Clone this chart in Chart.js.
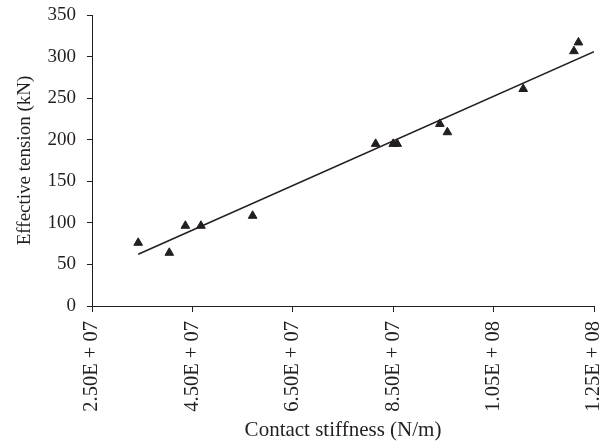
<!DOCTYPE html>
<html>
<head>
<meta charset="utf-8">
<script src="https://cdn.jsdelivr.net/npm/chart.js@4/dist/chart.umd.min.js"></script>
<style>
  html, body { margin: 0; padding: 0; background: #fff; }
  #wrap { width: 609px; height: 445px; }
</style>
</head>
<body>
<div id="wrap"><canvas id="stiffChart" width="609" height="445"></canvas></div>
<script>
// measured points: contact stiffness (N/m) vs effective tension (kN)
const stiffness = [3.42e7, 4.04e7, 4.36e7, 4.67e7, 5.70e7, 8.15e7, 8.50e7, 8.58e7, 9.43e7, 9.58e7, 1.109e8, 1.21e8, 1.219e8];
const tension   = [76, 64, 96.5, 96.5, 108.5, 195, 195, 195, 219, 209, 261, 306.5, 317];

// linear trend line end points
const trendX = [3.42e7, 1.25e8];
const trendY = [62.3, 306];

// x tick labels as printed in the figure
const xTickValues = [2.5e7, 4.5e7, 6.5e7, 8.5e7, 1.05e8, 1.25e8];
const xTickLabels = ['2.50E + 07', '4.50E + 07', '6.50E + 07', '8.50E + 07', '1.05E + 08', '1.25E + 08'];

const ink = '#231f20';
const serif = "'Liberation Serif', 'DejaVu Serif', serif";

const points = stiffness.map((x, i) => ({ x: x, y: tension[i] }));
const trend = trendX.map((x, i) => ({ x: x, y: trendY[i] }));

const ctx = document.getElementById('stiffChart').getContext('2d');
new Chart(ctx, {
    type: 'scatter',
    data: {
        datasets: [
            {
                label: 'Measured',
                data: points,
                pointStyle: 'triangle',
                pointRadius: 5,
                backgroundColor: ink,
                borderColor: ink,
                borderWidth: 1,
                order: 1
            },
            {
                type: 'line',
                label: 'Trend',
                data: trend,
                borderColor: ink,
                borderWidth: 1.5,
                pointRadius: 0,
                fill: false,
                order: 2
            }
        ]
    },
    options: {
        responsive: false,
        animation: false,
        layout: { padding: { left: 0, right: 15, top: 15, bottom: 0 } },
        plugins: {
            legend: { display: false },
            tooltip: { enabled: false }
        },
        scales: {
            x: {
                type: 'linear',
                min: 2.5e7,
                max: 1.25e8,
                afterBuildTicks: function (scale) {
                    scale.ticks = xTickValues.map(v => ({ value: v }));
                },
                afterFit: function (scale) {
                    scale.height = 139;
                    scale.paddingLeft = 0;
                    scale.paddingRight = 0;
                },
                border: { color: ink, width: 1 },
                grid: { drawOnChartArea: false, drawTicks: true, tickLength: 6, color: ink },
                ticks: {
                    color: ink,
                    font: { family: serif, size: 20.5 },
                    minRotation: 90,
                    maxRotation: 90,
                    padding: 9,
                    autoSkip: false,
                    callback: function (value) {
                        const i = xTickValues.indexOf(value);
                        return i >= 0 ? xTickLabels[i] : '';
                    }
                },
                title: {
                    display: true,
                    text: 'Contact stiffness (N/m)',
                    color: ink,
                    font: { family: serif, size: 21 },
                    padding: { top: 0, bottom: 2 }
                }
            },
            y: {
                min: 0,
                max: 350,
                afterFit: function (scale) {
                    scale.width = 92;
                    scale.paddingTop = 0;
                    scale.paddingBottom = 0;
                },
                border: { color: ink, width: 1 },
                grid: { drawOnChartArea: false, drawTicks: true, tickLength: 5, color: ink },
                ticks: {
                    stepSize: 50,
                    color: ink,
                    font: { family: serif, size: 19 },
                    padding: 11
                },
                title: {
                    display: true,
                    text: 'Effective tension (kN)',
                    color: ink,
                    font: { family: serif, size: 19 },
                    padding: { top: 14, bottom: 0 }
                }
            }
        }
    }
});
</script>
</body>
</html>
